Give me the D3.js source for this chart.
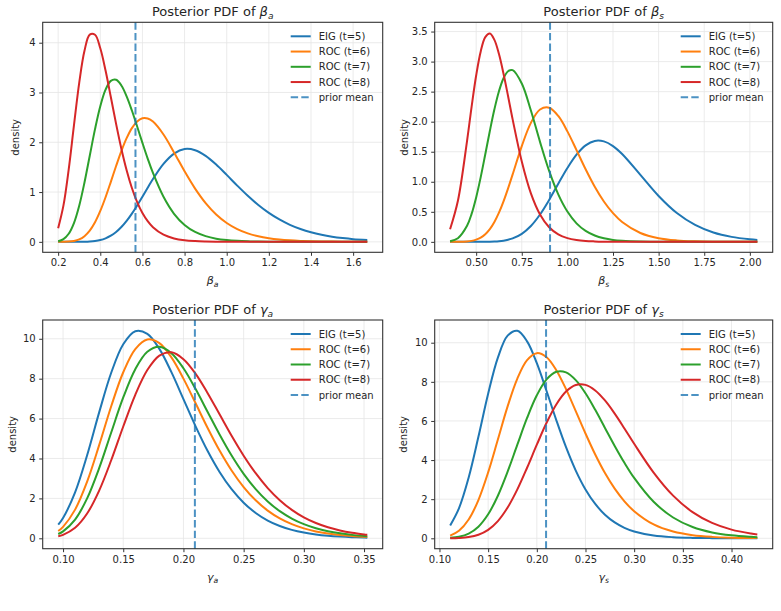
<!DOCTYPE html>
<html>
<head>
<meta charset="utf-8">
<script src="https://cdn.jsdelivr.net/npm/d3@7"></script>
<style>
  html, body { margin: 0; padding: 0; background: #fff; }
  svg text { font-family: "DejaVu Sans", sans-serif; fill: #262626; }
</style>
</head>
<body>
<svg id="chart" width="781" height="611"></svg>
<script>
// ---------------- data ----------------
const seriesNames = ["EIG (t=5)", "ROC (t=6)", "ROC (t=7)", "ROC (t=8)"];
const priorLabel = "prior mean";

// Panel 1: beta_a
const betaA_x = [0.20,0.225,0.25,0.275,0.30,0.325,0.35,0.375,0.40,0.425,0.45,0.475,0.50,0.525,0.55,0.575,0.60,0.625,0.65,
                 0.70,0.75,0.80,0.85,0.90,0.95,1.00,1.05,1.10,1.15,1.20,1.25,1.30,1.35,1.40,1.45,1.50,1.55,1.60,1.667];
const betaA_eig  = [0.000,0.000,0.000,0.000,0.001,0.003,0.008,0.018,0.037,0.071,0.123,0.197,0.297,0.421,0.568,0.732,0.908,1.087,1.262,
                    1.566,1.773,1.864,1.841,1.728,1.553,1.345,1.130,0.925,0.740,0.581,0.449,0.341,0.257,0.191,0.141,0.103,0.075,0.054,0.038];
const betaA_roc6 = [0.000,0.001,0.005,0.018,0.049,0.114,0.225,0.393,0.620,0.896,1.206,1.523,1.823,2.082,2.285,2.419,2.483,2.479,2.416,
                    2.157,1.797,1.417,1.069,0.778,0.550,0.379,0.256,0.171,0.112,0.073,0.047,0.030,0.019,0.012,0.008,0.005,0.003,0.002,0.001];
const betaA_roc7 = [0.013,0.054,0.162,0.378,0.726,1.193,1.730,2.264,2.724,3.056,3.233,3.255,3.141,2.924,2.638,2.317,1.989,1.673,1.383,
                    0.904,0.564,0.339,0.198,0.114,0.064,0.036,0.020,0.011,0.006,0.003,0.002,0.001,0.001,0.000,0.000,0.000,0.000,0.000,0.000];
const betaA_roc8 = [0.274,0.727,1.452,2.338,3.195,3.838,4.163,4.160,3.888,3.441,2.909,2.370,1.871,1.439,1.082,0.799,0.580,0.416,0.295,
                    0.144,0.069,0.032,0.015,0.007,0.003,0.001,0.001,0.000,0.000,0.000,0.000,0.000,0.000,0.000,0.000,0.000,0.000,0.000,0.000];
const betaA_prior = 0.567;
const betaA_xticks = [0.2,0.4,0.6,0.8,1.0,1.2,1.4,1.6];
const betaA_yticks = [0,1,2,3,4];
const betaA_xlim = [0.1267, 1.7403];
const betaA_ylim = [-0.21, 4.41];

// Panel 2: beta_s
const betaS_x = [0.357,0.40,0.45,0.475,0.50,0.525,0.55,0.575,0.60,0.625,0.65,0.675,0.70,
                 0.75,0.80,0.85,0.90,0.95,1.00,1.05,1.10,1.15,1.20,1.25,1.30,1.40,1.50,1.60,1.70,1.80,1.90,2.00,2.041];
const betaS_eig  = [0.000,0.000,0.000,0.000,0.000,0.000,0.001,0.003,0.006,0.011,0.020,0.035,0.057,
                    0.134,0.264,0.455,0.697,0.967,1.229,1.451,1.606,1.680,1.672,1.594,1.462,1.115,0.764,0.480,0.282,0.156,0.083,0.042,0.032];
const betaS_roc6 = [0.000,0.001,0.007,0.016,0.036,0.070,0.127,0.212,0.331,0.485,0.673,0.889,1.123,
                    1.593,1.980,2.202,2.233,2.095,1.839,1.527,1.208,0.917,0.672,0.477,0.330,0.147,0.061,0.024,0.009,0.003,0.001,0.000,0.000];
const betaS_roc7 = [0.011,0.061,0.267,0.466,0.740,1.077,1.457,1.845,2.206,2.507,2.723,2.840,2.858,
                    2.635,2.186,1.664,1.181,0.790,0.504,0.308,0.182,0.105,0.059,0.032,0.018,0.005,0.001,0.000,0.000,0.000,0.000,0.000,0.000];
const betaS_roc8 = [0.210,0.684,1.678,2.248,2.769,3.170,3.408,3.468,3.362,3.125,2.798,2.423,2.038,
                    1.337,0.807,0.456,0.244,0.125,0.062,0.030,0.014,0.007,0.003,0.001,0.001,0.000,0.000,0.000,0.000,0.000,0.000,0.000,0.000];
const betaS_prior = 0.905;
const betaS_xticks = [0.50,0.75,1.00,1.25,1.50,1.75,2.00];
const betaS_yticks = [0.0,0.5,1.0,1.5,2.0,2.5,3.0,3.5];
const betaS_xlim = [0.2728, 2.1252];
const betaS_ylim = [-0.174, 3.654];

// Panel 3: gamma_a
const gammaA_x = [0.096,0.10,0.11,0.12,0.13,0.14,0.15,0.16,0.17,0.18,0.19,0.20,0.21,0.22,0.23,0.24,0.25,0.26,0.27,0.28,0.29,0.30,0.31,0.32,0.33,0.34,0.35,0.3527];
const gammaA_eig  = [0.680,1.017,2.304,4.164,6.310,8.296,9.726,10.38,10.25,9.493,8.326,6.975,5.623,4.386,3.326,2.461,1.785,1.271,0.891,0.618,0.422,0.286,0.192,0.128,0.085,0.056,0.037,0.033];
const gammaA_roc6 = [0.369,0.576,1.437,2.839,4.669,6.618,8.323,9.487,9.967,9.781,9.065,8.002,6.778,5.543,4.399,3.400,2.570,1.905,1.388,0.998,0.708,0.496,0.344,0.237,0.162,0.110,0.075,0.067];
const gammaA_roc7 = [0.214,0.346,0.938,1.999,3.516,5.303,7.058,8.476,9.348,9.598,9.277,8.521,7.492,6.346,5.206,4.151,3.233,2.466,1.846,1.361,0.990,0.710,0.505,0.355,0.248,0.172,0.119,0.107];
const gammaA_roc8 = [0.102,0.174,0.527,1.243,2.392,3.912,5.604,7.193,8.431,9.156,9.320,8.979,8.254,7.288,6.215,5.139,4.141,3.262,2.517,1.910,1.427,1.051,0.765,0.551,0.394,0.279,0.196,0.178];
const gammaA_prior = 0.2095;
const gammaA_xticks = [0.10,0.15,0.20,0.25,0.30,0.35];
const gammaA_yticks = [0,2,4,6,8,10];
const gammaA_xlim = [0.0831, 0.3655];
const gammaA_ylim = [-0.521, 10.941];

// Panel 4: gamma_s
const gammaS_x = [0.111,0.12,0.13,0.14,0.15,0.16,0.17,0.18,0.19,0.20,0.21,0.22,0.23,0.24,0.25,0.26,0.27,0.28,0.29,0.30,0.32,0.34,0.36,0.38,0.40,0.42,0.4265];
const gammaS_eig  = [0.659,1.532,3.109,5.190,7.391,9.236,10.36,10.61,10.07,8.953,7.531,6.044,4.658,3.464,2.499,1.757,1.205,0.812,0.537,0.350,0.143,0.056,0.021,0.008,0.003,0.001,0.001];
const gammaS_roc6 = [0.136,0.384,0.961,1.957,3.369,5.051,6.744,8.169,9.110,9.466,9.259,8.596,7.626,6.504,5.360,4.286,3.337,2.540,1.892,1.385,0.707,0.345,0.161,0.073,0.032,0.014,0.011];
const gammaS_roc7 = [0.023,0.078,0.241,0.595,1.227,2.177,3.405,4.789,6.152,7.310,8.122,8.513,8.483,8.087,7.415,6.569,5.644,4.723,3.859,3.086,1.867,1.064,0.577,0.301,0.152,0.075,0.059];
const gammaS_roc8 = [0.004,0.017,0.062,0.181,0.432,0.882,1.571,2.500,3.607,4.785,5.906,6.842,7.502,7.837,7.845,7.561,7.047,6.376,5.617,4.833,3.360,2.181,1.339,0.785,0.443,0.242,0.198];
const gammaS_prior = 0.2095;
const gammaS_xticks = [0.10,0.15,0.20,0.25,0.30,0.35,0.40];
const gammaS_yticks = [0,2,4,6,8,10];
const gammaS_xlim = [0.0951, 0.4423];
const gammaS_ylim = [-0.5315, 11.1615];

// ---------------- styles / layout ----------------
const colors = ["#1f77b4", "#ff7f0e", "#2ca02c", "#d62728"];

const panels = [
  { sym: "β", sub: "a", x: betaA_x, ys: [betaA_eig, betaA_roc6, betaA_roc7, betaA_roc8], prior: betaA_prior,
    xticks: betaA_xticks, yticks: betaA_yticks, xlim: betaA_xlim, ylim: betaA_ylim, xfmt: ".1f", yfmt: "d",
    box: { l: 42.7, r: 382.7, t: 22.3, b: 252.3 }, ylabX: 18.5 },
  { sym: "β", sub: "s", x: betaS_x, ys: [betaS_eig, betaS_roc6, betaS_roc7, betaS_roc8], prior: betaS_prior,
    xticks: betaS_xticks, yticks: betaS_yticks, xlim: betaS_xlim, ylim: betaS_ylim, xfmt: ".2f", yfmt: ".1f",
    box: { l: 434.7, r: 772.7, t: 22.3, b: 252.3 }, ylabX: 408.2 },
  { sym: "γ", sub: "a", x: gammaA_x, ys: [gammaA_eig, gammaA_roc6, gammaA_roc7, gammaA_roc8], prior: gammaA_prior,
    xticks: gammaA_xticks, yticks: gammaA_yticks, xlim: gammaA_xlim, ylim: gammaA_ylim, xfmt: ".2f", yfmt: "d",
    box: { l: 42.7, r: 382.7, t: 320, b: 548.7 }, ylabX: 15.5 },
  { sym: "γ", sub: "s", x: gammaS_x, ys: [gammaS_eig, gammaS_roc6, gammaS_roc7, gammaS_roc8], prior: gammaS_prior,
    xticks: gammaS_xticks, yticks: gammaS_yticks, xlim: gammaS_xlim, ylim: gammaS_ylim, xfmt: ".2f", yfmt: "d",
    box: { l: 434.7, r: 772.7, t: 320, b: 548.7 }, ylabX: 407 }
];

const svg = d3.select("#chart");
svg.append("rect").attr("width", 781).attr("height", 611).attr("fill", "#fff");

function mathText(sel, sym, sub, size) {
  sel.append("tspan").attr("font-style", "italic").text(sym);
  sel.append("tspan").attr("font-style", "italic").attr("font-size", size * 0.7)
     .attr("dy", size * 0.22).text(sub);
}

panels.forEach(p => {
  const b = p.box;
  const x = d3.scaleLinear().domain(p.xlim).range([b.l, b.r]);
  const y = d3.scaleLinear().domain(p.ylim).range([b.b, b.t]);
  const g = svg.append("g");

  // grid
  g.append("g").selectAll("line").data(p.xticks).join("line")
    .attr("x1", d => x(d)).attr("x2", d => x(d)).attr("y1", b.t).attr("y2", b.b)
    .attr("stroke", "#e6e6e6").attr("stroke-width", 0.8);
  g.append("g").selectAll("line").data(p.yticks).join("line")
    .attr("y1", d => y(d)).attr("y2", d => y(d)).attr("x1", b.l).attr("x2", b.r)
    .attr("stroke", "#e6e6e6").attr("stroke-width", 0.8);

  // curves
  const line = d3.line().x((d, i) => x(p.x[i])).y(d => y(d)).curve(d3.curveCatmullRom.alpha(0.5));
  p.ys.forEach((arr, k) => {
    g.append("path").attr("d", line(arr)).attr("fill", "none")
      .attr("stroke", colors[k]).attr("stroke-width", 2).attr("stroke-linejoin", "round");
  });

  // prior mean line (drawn bottom to top, like matplotlib)
  g.append("line").attr("x1", x(p.prior)).attr("x2", x(p.prior)).attr("y1", b.b).attr("y2", b.t)
    .attr("stroke", colors[0]).attr("stroke-opacity", 0.8).attr("stroke-width", 2)
    .attr("stroke-dasharray", "7.4,3.2");

  // axes
  const xa = g.append("g").attr("transform", `translate(0,${b.b})`)
    .call(d3.axisBottom(x).tickValues(p.xticks).tickFormat(d3.format(p.xfmt)).tickSize(3.5).tickPadding(3.5).tickSizeOuter(0));
  const ya = g.append("g").attr("transform", `translate(${b.l},0)`)
    .call(d3.axisLeft(y).tickValues(p.yticks).tickFormat(d3.format(p.yfmt)).tickSize(3.5).tickPadding(3.5).tickSizeOuter(0));
  [xa, ya].forEach(a => {
    a.select(".domain").remove();
    a.selectAll(".tick line").attr("stroke", "#333").attr("stroke-width", 1);
    a.selectAll(".tick text").attr("font-size", 10).attr("font-family", "DejaVu Sans").attr("fill", "#262626");
  });

  // spines
  g.append("rect").attr("x", b.l).attr("y", b.t).attr("width", b.r - b.l).attr("height", b.b - b.t)
    .attr("fill", "none").attr("stroke", "#333").attr("stroke-width", 1.1);

  // title
  const cx = (b.l + b.r) / 2;
  const t = g.append("text").attr("x", cx).attr("y", b.t - 6).attr("text-anchor", "middle").attr("font-size", 13);
  t.append("tspan").text("Posterior PDF of ");
  mathText(t, p.sym, p.sub, 13);

  // x label
  const xl = g.append("text").attr("x", cx).attr("y", b.b + 32).attr("text-anchor", "middle").attr("font-size", 11);
  mathText(xl, p.sym, p.sub, 11);

  // y label
  g.append("text").attr("transform", `translate(${p.ylabX},${(b.t + b.b) / 2}) rotate(-90)`)
    .attr("text-anchor", "middle").attr("font-size", 10).text("density");

  // legend
  const lx = b.r - 92, ly = b.t + 14, step = 15.25;
  const labels = seriesNames.concat([priorLabel]);
  labels.forEach((lab, i) => {
    const yy = ly + i * step;
    const ln = g.append("line").attr("x1", lx).attr("x2", lx + 20).attr("y1", yy).attr("y2", yy)
      .attr("stroke-width", 2);
    if (i < 4) ln.attr("stroke", colors[i]);
    else ln.attr("stroke", colors[0]).attr("stroke-opacity", 0.8).attr("stroke-dasharray", "7.4,3.2");
    g.append("text").attr("x", lx + 28).attr("y", yy + 3.6).attr("font-size", 10).text(lab);
  });
});
</script>
</body>
</html>
